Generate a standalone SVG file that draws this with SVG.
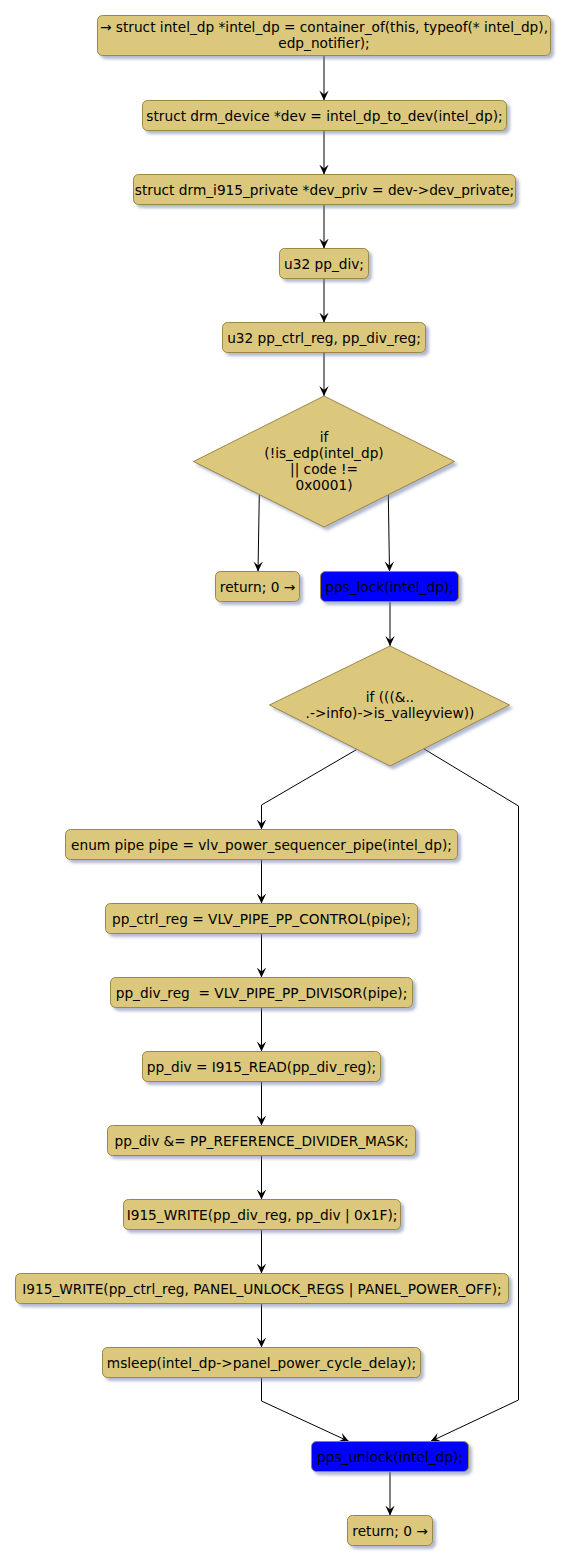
<svg xmlns="http://www.w3.org/2000/svg" width="569" height="1564" viewBox="0 0 569 1564">
<defs>
<filter id="sh" x="-10%" y="-20%" width="130%" height="160%">
<feDropShadow dx="3" dy="3" stdDeviation="1.5" flood-color="#7080A8" flood-opacity="0.55"/>
</filter>
<marker id="ah" markerWidth="10" markerHeight="10" refX="10" refY="5" orient="auto" markerUnits="userSpaceOnUse" viewBox="0 0 10 10">
<path d="M0,0.3 L10,5 L0,9.7 L4,5 Z" fill="#000"/>
</marker>
</defs>
<style>
.box{fill:#DBC87B;stroke:#9C8745;stroke-width:1;filter:url(#sh)}
.blue{fill:#0000FF;stroke:#9C8745;stroke-width:1;filter:url(#sh)}
.t{font-family:"DejaVu Sans","Liberation Sans",sans-serif;font-size:13.7px;fill:#000;text-anchor:middle}
.c{fill:none;stroke:#000;stroke-width:1;marker-end:url(#ah)}
</style>
<rect width="569" height="1564" fill="#FFFFFF"/>
<g id="connectors">
<path class="c" d="M324,56 L324,100.5"/>
<path class="c" d="M324,130.5 L324,174.5"/>
<path class="c" d="M324,204.5 L324,248.5"/>
<path class="c" d="M324,278.5 L324,322.5"/>
<path class="c" d="M324,352.5 L324,396"/>
<path class="c" d="M259.3,495 L258,571.5"/>
<path class="c" d="M388.3,495 L389.5,571.5"/>
<path class="c" d="M390,601.5 L390,646"/>
<path class="c" d="M356.7,749.5 L261.5,805 L261.5,829.5"/>
<path class="c" d="M423.3,748.5 L518.5,806 L518.5,1400 L430.5,1441.5"/>
<path class="c" d="M261.5,859.5 L261.5,903.5"/>
<path class="c" d="M261.5,933.5 L261.5,977.5"/>
<path class="c" d="M261.5,1007.5 L261.5,1051.5"/>
<path class="c" d="M261.5,1081.5 L261.5,1125.5"/>
<path class="c" d="M261.5,1155.5 L261.5,1199.5"/>
<path class="c" d="M261.5,1229.5 L261.5,1273.5"/>
<path class="c" d="M261.5,1303.5 L261.5,1347.5"/>
<path class="c" d="M261.5,1377.5 L261.5,1401 L349,1441.5"/>
<path class="c" d="M390,1471.5 L390,1515.5"/>
</g>
<g id="n1"><rect class="box" x="97.5" y="15.5" width="453" height="40" rx="5"/><text class="t" x="324" y="31.5">→ struct intel_dp *intel_dp = container_of(this, typeof(* intel_dp),</text><text class="t" x="324" y="48">edp_notifier);</text></g>
<g id="n2"><rect class="box" x="142.5" y="100.5" width="364" height="30" rx="5"/><text class="t" x="324.5" y="120.5">struct drm_device *dev = intel_dp_to_dev(intel_dp);</text></g>
<g id="n3"><rect class="box" x="133.5" y="174.5" width="382" height="30" rx="5"/><text class="t" x="324.5" y="194.5">struct drm_i915_private *dev_priv = dev-&gt;dev_private;</text></g>
<g id="n4"><rect class="box" x="279.5" y="248.5" width="89" height="30" rx="5"/><text class="t" x="324" y="268.5">u32 pp_div;</text></g>
<g id="n5"><rect class="box" x="222.5" y="322.5" width="203" height="30" rx="5"/><text class="t" x="324" y="342.5">u32 pp_ctrl_reg, pp_div_reg;</text></g>
<g id="d1"><polygon class="box" points="324,396 454.5,461.5 324,527 193.5,461.5"/><text class="t" x="324" y="441.5">if</text><text class="t" x="324" y="458">(!is_edp(intel_dp)</text><text class="t" x="324" y="474">|| code !=</text><text class="t" x="324" y="490">0x0001)</text></g>
<g id="n6"><rect class="box" x="215.5" y="571.5" width="84" height="30" rx="5"/><text class="t" x="257.5" y="591.5">return; 0 →</text></g>
<g id="n7"><rect class="blue" x="320.5" y="571.5" width="138" height="30" rx="5"/><text class="t" x="389.5" y="591.5">pps_lock(intel_dp);</text></g>
<g id="d2"><polygon class="box" points="390,646 509.5,705 390,766 269.5,705"/><text class="t" x="390" y="701.5">if (((&amp;..</text><text class="t" x="390" y="717.5">.-&gt;info)-&gt;is_valleyview))</text></g>
<g id="n8"><rect class="box" x="65.5" y="829.5" width="392" height="30" rx="5"/><text class="t" x="261.5" y="849.5">enum pipe pipe = vlv_power_sequencer_pipe(intel_dp);</text></g>
<g id="n9"><rect class="box" x="105.5" y="903.5" width="312" height="30" rx="5"/><text class="t" x="261.5" y="923.5">pp_ctrl_reg = VLV_PIPE_PP_CONTROL(pipe);</text></g>
<g id="n10"><rect class="box" x="110.5" y="977.5" width="302" height="30" rx="5"/><text class="t" x="261.5" y="997.5" xml:space="preserve">pp_div_reg  = VLV_PIPE_PP_DIVISOR(pipe);</text></g>
<g id="n11"><rect class="box" x="142.5" y="1051.5" width="238" height="30" rx="5"/><text class="t" x="261.5" y="1071.5">pp_div = I915_READ(pp_div_reg);</text></g>
<g id="n12"><rect class="box" x="107.5" y="1125.5" width="308" height="30" rx="5"/><text class="t" x="261.5" y="1145.5">pp_div &amp;= PP_REFERENCE_DIVIDER_MASK;</text></g>
<g id="n13"><rect class="box" x="123.5" y="1199.5" width="277" height="30" rx="5"/><text class="t" x="262" y="1219.5">I915_WRITE(pp_div_reg, pp_div | 0x1F);</text></g>
<g id="n14"><rect class="box" x="15.5" y="1273.5" width="493" height="30" rx="5"/><text class="t" x="262" y="1293.5">I915_WRITE(pp_ctrl_reg, PANEL_UNLOCK_REGS | PANEL_POWER_OFF);</text></g>
<g id="n15"><rect class="box" x="102.5" y="1347.5" width="318" height="30" rx="5"/><text class="t" x="261.5" y="1367.5">msleep(intel_dp-&gt;panel_power_cycle_delay);</text></g>
<g id="n16"><rect class="blue" x="311.5" y="1441.5" width="157" height="30" rx="5"/><text class="t" x="390" y="1461.5">pps_unlock(intel_dp);</text></g>
<g id="n17"><rect class="box" x="347.5" y="1515.5" width="85" height="30" rx="5"/><text class="t" x="390" y="1535.5">return; 0 →</text></g>
</svg>
